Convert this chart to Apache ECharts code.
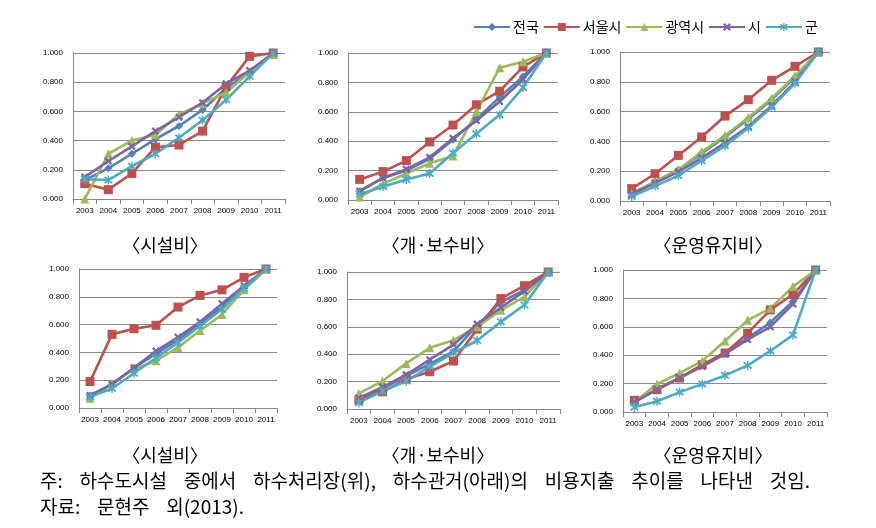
<!DOCTYPE html>
<html><head><meta charset="utf-8">
<script src="https://cdn.jsdelivr.net/npm/echarts@6/dist/echarts.min.js"></script>
<style>html,body{margin:0;padding:0;background:#fff}#c{width:876px;height:528px}</style>
</head><body><div id="c"></div>
<script>
const years = ['2003','2004','2005','2006','2007','2008','2009','2010','2011'];
const seriesNames = ['전국','서울시','광역시','시','군'];
const yTicks = [0, 0.2, 0.4, 0.6, 0.8, 1.0];
const panelTitles = ['〈시설비〉','〈개·보수비〉','〈운영유지비〉','〈시설비〉','〈개·보수비〉','〈운영유지비〉'];
const noteWords = ['주:','하수도시설','중에서','하수처리장(위),','하수관거(아래)의','비용지출','추이를','나타낸','것임.'];
const sourceWords = ['자료:','문현주','외(2013).'];

// 하수처리장 - 시설비
const p1_nation = [0.13, 0.21, 0.31, 0.41, 0.50, 0.61, 0.76, 0.87, 1.00];
const p1_seoul  = [0.105, 0.064, 0.175, 0.355, 0.37, 0.465, 0.77, 0.977, 1.00];
const p1_metro  = [0.00, 0.31, 0.40, 0.44, 0.58, 0.655, 0.73, 0.87, 0.99];
const p1_city   = [0.15, 0.26, 0.36, 0.465, 0.56, 0.66, 0.79, 0.88, 1.00];
const p1_county = [0.135, 0.13, 0.225, 0.31, 0.42, 0.54, 0.68, 0.84, 1.00];
// 하수처리장 - 개·보수비
const p2_nation = [0.06, 0.15, 0.20, 0.28, 0.41, 0.55, 0.70, 0.84, 1.00];
const p2_seoul  = [0.14, 0.193, 0.268, 0.395, 0.51, 0.648, 0.74, 0.905, 1.00];
const p2_metro  = [0.02, 0.11, 0.18, 0.25, 0.30, 0.60, 0.90, 0.94, 1.00];
const p2_city   = [0.06, 0.15, 0.21, 0.29, 0.42, 0.54, 0.67, 0.82, 1.00];
const p2_county = [0.04, 0.09, 0.14, 0.18, 0.32, 0.45, 0.58, 0.765, 1.00];
// 하수처리장 - 운영유지비
const p3_nation = [0.05, 0.13, 0.21, 0.32, 0.43, 0.55, 0.68, 0.83, 1.00];
const p3_seoul  = [0.083, 0.183, 0.306, 0.43, 0.57, 0.68, 0.81, 0.904, 1.00];
const p3_metro  = [0.05, 0.13, 0.21, 0.33, 0.44, 0.56, 0.69, 0.84, 1.00];
const p3_city   = [0.045, 0.12, 0.195, 0.29, 0.39, 0.50, 0.64, 0.80, 1.00];
const p3_county = [0.03, 0.10, 0.17, 0.27, 0.37, 0.49, 0.63, 0.79, 1.00];
// 하수관거 - 시설비
const p4_nation = [0.09, 0.17, 0.29, 0.39, 0.49, 0.60, 0.73, 0.86, 1.00];
const p4_seoul  = [0.19, 0.53, 0.57, 0.595, 0.726, 0.81, 0.85, 0.94, 1.00];
const p4_metro  = [0.07, 0.18, 0.28, 0.34, 0.436, 0.557, 0.673, 0.85, 1.00];
const p4_city   = [0.09, 0.17, 0.29, 0.41, 0.51, 0.62, 0.75, 0.88, 1.00];
const p4_county = [0.08, 0.14, 0.25, 0.36, 0.47, 0.59, 0.71, 0.86, 1.00];
// 하수관거 - 개·보수비
const p5_nation = [0.07, 0.15, 0.24, 0.33, 0.42, 0.61, 0.78, 0.87, 1.00];
const p5_seoul  = [0.065, 0.126, 0.218, 0.272, 0.35, 0.583, 0.806, 0.90, 1.00];
const p5_metro  = [0.114, 0.204, 0.333, 0.447, 0.502, 0.60, 0.72, 0.82, 1.00];
const p5_city   = [0.08, 0.16, 0.25, 0.36, 0.47, 0.62, 0.74, 0.86, 1.00];
const p5_county = [0.046, 0.13, 0.204, 0.31, 0.41, 0.50, 0.636, 0.76, 1.00];
// 하수관거 - 운영유지비
const p6_nation = [0.07, 0.16, 0.24, 0.33, 0.42, 0.52, 0.63, 0.78, 1.00];
const p6_seoul  = [0.082, 0.157, 0.239, 0.333, 0.415, 0.555, 0.719, 0.829, 1.00];
const p6_metro  = [0.07, 0.197, 0.274, 0.36, 0.50, 0.646, 0.73, 0.883, 1.00];
const p6_city   = [0.07, 0.16, 0.24, 0.32, 0.41, 0.51, 0.60, 0.76, 1.00];
const p6_county = [0.033, 0.075, 0.14, 0.197, 0.258, 0.328, 0.43, 0.543, 1.00];

const panels = [
  [p1_nation, p1_seoul, p1_metro, p1_city, p1_county],
  [p2_nation, p2_seoul, p2_metro, p2_city, p2_county],
  [p3_nation, p3_seoul, p3_metro, p3_city, p3_county],
  [p4_nation, p4_seoul, p4_metro, p4_city, p4_county],
  [p5_nation, p5_seoul, p5_metro, p5_city, p5_county],
  [p6_nation, p6_seoul, p6_metro, p6_city, p6_county]
];

const colors = ['#4F81BD','#C0504D','#9BBB59','#8064A2','#4BACC6'];
const xPath = 'path://M0,2 L2,0 L5,3 L8,0 L10,2 L7,5 L10,8 L8,10 L5,7 L2,10 L0,8 L3,5 Z';
const starPath = 'path://M0,1.6 L1.6,0 L5,3.4 L8.4,0 L10,1.6 L6.6,5 L10,8.4 L8.4,10 L5,6.6 L1.6,10 L0,8.4 L3.4,5 Z M4.2,-1 L5.8,-1 L5.8,11 L4.2,11 Z';
const symbols = ['diamond','rect','triangle',xPath,starPath];
const symSizes = [8, 9, 9, 8, 9];

const grids = [
  {left:73, top:53, width:212, height:146},
  {left:348, top:53, width:210, height:147},
  {left:620, top:52, width:210, height:149},
  {left:79, top:269, width:198, height:139},
  {left:347, top:272, width:213, height:137},
  {left:623, top:270, width:204, height:142}
];
const titlePos = [
  {x:165, y:245}, {x:438, y:245}, {x:713, y:245},
  {x:165, y:455}, {x:438, y:455}, {x:713, y:455}
];

const fontCJK = '"Noto Sans CJK KR", "Noto Sans", sans-serif';
const axisFont = '"Liberation Sans", Arial, sans-serif';
const noteSize = 19;

// spread words evenly between the reference's start and end of line
const mctx = document.createElement('canvas').getContext('2d');
mctx.font = noteSize + 'px ' + fontCJK;
function spread(words, x0, x1) {
  const w = words.map(s => mctx.measureText(s).width);
  const total = w.reduce((a, b) => a + b, 0);
  const gap = (x1 - x0 - total) / (words.length - 1);
  const xs = []; let x = x0;
  w.forEach(v => { xs.push(x); x += v + gap; });
  return xs;
}
const noteX = spread(noteWords, 40, 810);
const srcW = sourceWords.map(s => mctx.measureText(s).width);
const srcGap = (noteX[1] - noteX[0] - mctx.measureText(noteWords[0]).width);
const sourceX = []; { let x = 40; srcW.forEach(v => { sourceX.push(x); x += v + srcGap; }); }

const xAxes = [], yAxes = [], series = [], graphics = [];
grids.forEach((g, i) => {
  xAxes.push({
    type:'category', gridIndex:i, data:years, boundaryGap:true,
    axisLine:{show:true, lineStyle:{color:'#888', width:1}},
    axisTick:{show:true, length:5, lineStyle:{color:'#888'}},
    axisLabel:{interval:0, fontSize:8, color:'#000', fontFamily:axisFont, margin:8}
  });
  yAxes.push({
    type:'value', gridIndex:i, min:yTicks[0], max:yTicks[yTicks.length-1], interval:yTicks[1]-yTicks[0],
    axisLine:{show:true, lineStyle:{color:'#888', width:1}},
    axisTick:{show:false},
    splitLine:{show:true, lineStyle:{color:'#8a8a8a', width:1}},
    axisLabel:{fontSize:8, color:'#000', fontFamily:axisFont, margin:10, formatter:v => v.toFixed(3)}
  });
  panels[i].forEach((vals, k) => {
    series.push({
      type:'line', name:seriesNames[k], xAxisIndex:i, yAxisIndex:i, data:vals,
      symbol:symbols[k], symbolSize:symSizes[k], showAllSymbol:true,
      lineStyle:{color:colors[k], width:2.6},
      itemStyle:{color:colors[k]},
      animation:false
    });
  });
  graphics.push({
    type:'text', x:titlePos[i].x, y:titlePos[i].y,
    style:{text:panelTitles[i], fontSize:18, fontFamily:fontCJK, fill:'#000', textAlign:'center', textVerticalAlign:'middle'}
  });
});
noteWords.forEach((w, j) => {
  graphics.push({type:'text', x:noteX[j], y:481, style:{text:w, fontSize:noteSize, fontFamily:fontCJK, fill:'#000', textVerticalAlign:'middle'}});
});
sourceWords.forEach((w, j) => {
  graphics.push({type:'text', x:sourceX[j], y:507, style:{text:w, fontSize:noteSize, fontFamily:fontCJK, fill:'#000', textVerticalAlign:'middle'}});
});

const chart = echarts.init(document.getElementById('c'), null, {renderer:'canvas'});
chart.setOption({
  animation:false,
  color:colors,
  legend:{
    data:seriesNames, left:468, top:15, itemWidth:36, itemHeight:10, itemGap:4,
    textStyle:{fontSize:14, fontFamily:fontCJK, color:'#000', padding:[0,0,0,-2]}
  },
  grid:grids,
  xAxis:xAxes,
  yAxis:yAxes,
  series:series,
  graphic:graphics
});
</script>
</body></html>
